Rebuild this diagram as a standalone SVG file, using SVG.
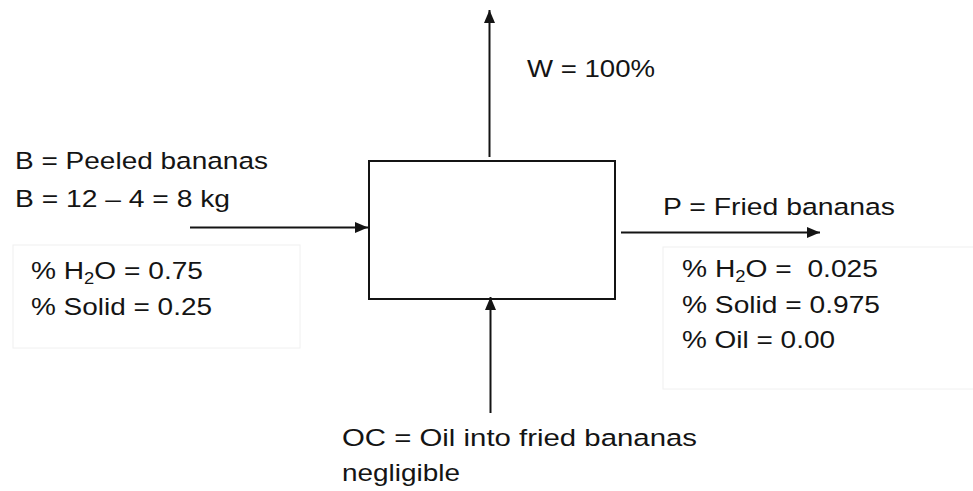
<svg xmlns="http://www.w3.org/2000/svg" width="973" height="491" viewBox="0 0 973 491">
<style>
text{font-family:"Liberation Sans",Arial,sans-serif;font-size:24.5px;fill:#141414}
.ln{stroke:#141414;stroke-width:2;fill:none}
.pane{fill:#fff;stroke:#f0f0f0;stroke-width:1}
</style>
<defs>
<marker id="ah" viewBox="0 0 13 12" refX="13" refY="6" markerWidth="13" markerHeight="12" markerUnits="userSpaceOnUse" orient="auto">
<path d="M0,0.5 L13,6 L0,11.5 Z" fill="#141414"/>
</marker>
</defs>
<rect width="973" height="491" fill="#fff"/>
<g id="feed-pane"><rect class="pane" x="13" y="245" width="287" height="103"/></g>
<g id="product-pane"><rect class="pane" x="663" y="247" width="320" height="142"/></g>
<g id="fryer"><rect class="ln" x="369" y="161" width="246" height="138"/></g>
<g id="connectors">
<line class="ln" x1="190" y1="227.5" x2="368" y2="227.5" marker-end="url(#ah)"/>
<line class="ln" x1="621" y1="232.5" x2="820" y2="232.5" marker-end="url(#ah)"/>
<line class="ln" x1="489.5" y1="157" x2="489.5" y2="10" marker-end="url(#ah)"/>
<line class="ln" x1="490.5" y1="413" x2="490.5" y2="297" marker-end="url(#ah)"/>
</g>
<g id="label-feed">
<text x="15" y="169" textLength="253" lengthAdjust="spacingAndGlyphs">B = Peeled bananas</text>
<text x="15" y="207" textLength="215" lengthAdjust="spacingAndGlyphs">B = 12 – 4 = 8 kg</text>
</g>
<g id="label-feed-comp">
<text x="31" y="279" textLength="172" lengthAdjust="spacingAndGlyphs">% H<tspan font-size="16" dy="5">2</tspan><tspan dy="-5">O = 0.75</tspan></text>
<text x="31" y="315" textLength="181" lengthAdjust="spacingAndGlyphs">% Solid = 0.25</text>
</g>
<g id="label-water">
<text x="527" y="77" textLength="128" lengthAdjust="spacingAndGlyphs">W = 100%</text>
</g>
<g id="label-product">
<text x="663" y="215" textLength="232" lengthAdjust="spacingAndGlyphs">P = Fried bananas</text>
</g>
<g id="label-product-comp">
<text x="682" y="277" textLength="196" lengthAdjust="spacingAndGlyphs">% H<tspan font-size="16" dy="5">2</tspan><tspan dy="-5">O =&#160; 0.025</tspan></text>
<text x="682" y="313" textLength="198" lengthAdjust="spacingAndGlyphs">% Solid = 0.975</text>
<text x="682" y="348" textLength="153" lengthAdjust="spacingAndGlyphs">% Oil = 0.00</text>
</g>
<g id="label-oil">
<text x="342" y="446" textLength="355" lengthAdjust="spacingAndGlyphs">OC = Oil into fried bananas</text>
<text x="342" y="481" textLength="118" lengthAdjust="spacingAndGlyphs">negligible</text>
</g>
</svg>
